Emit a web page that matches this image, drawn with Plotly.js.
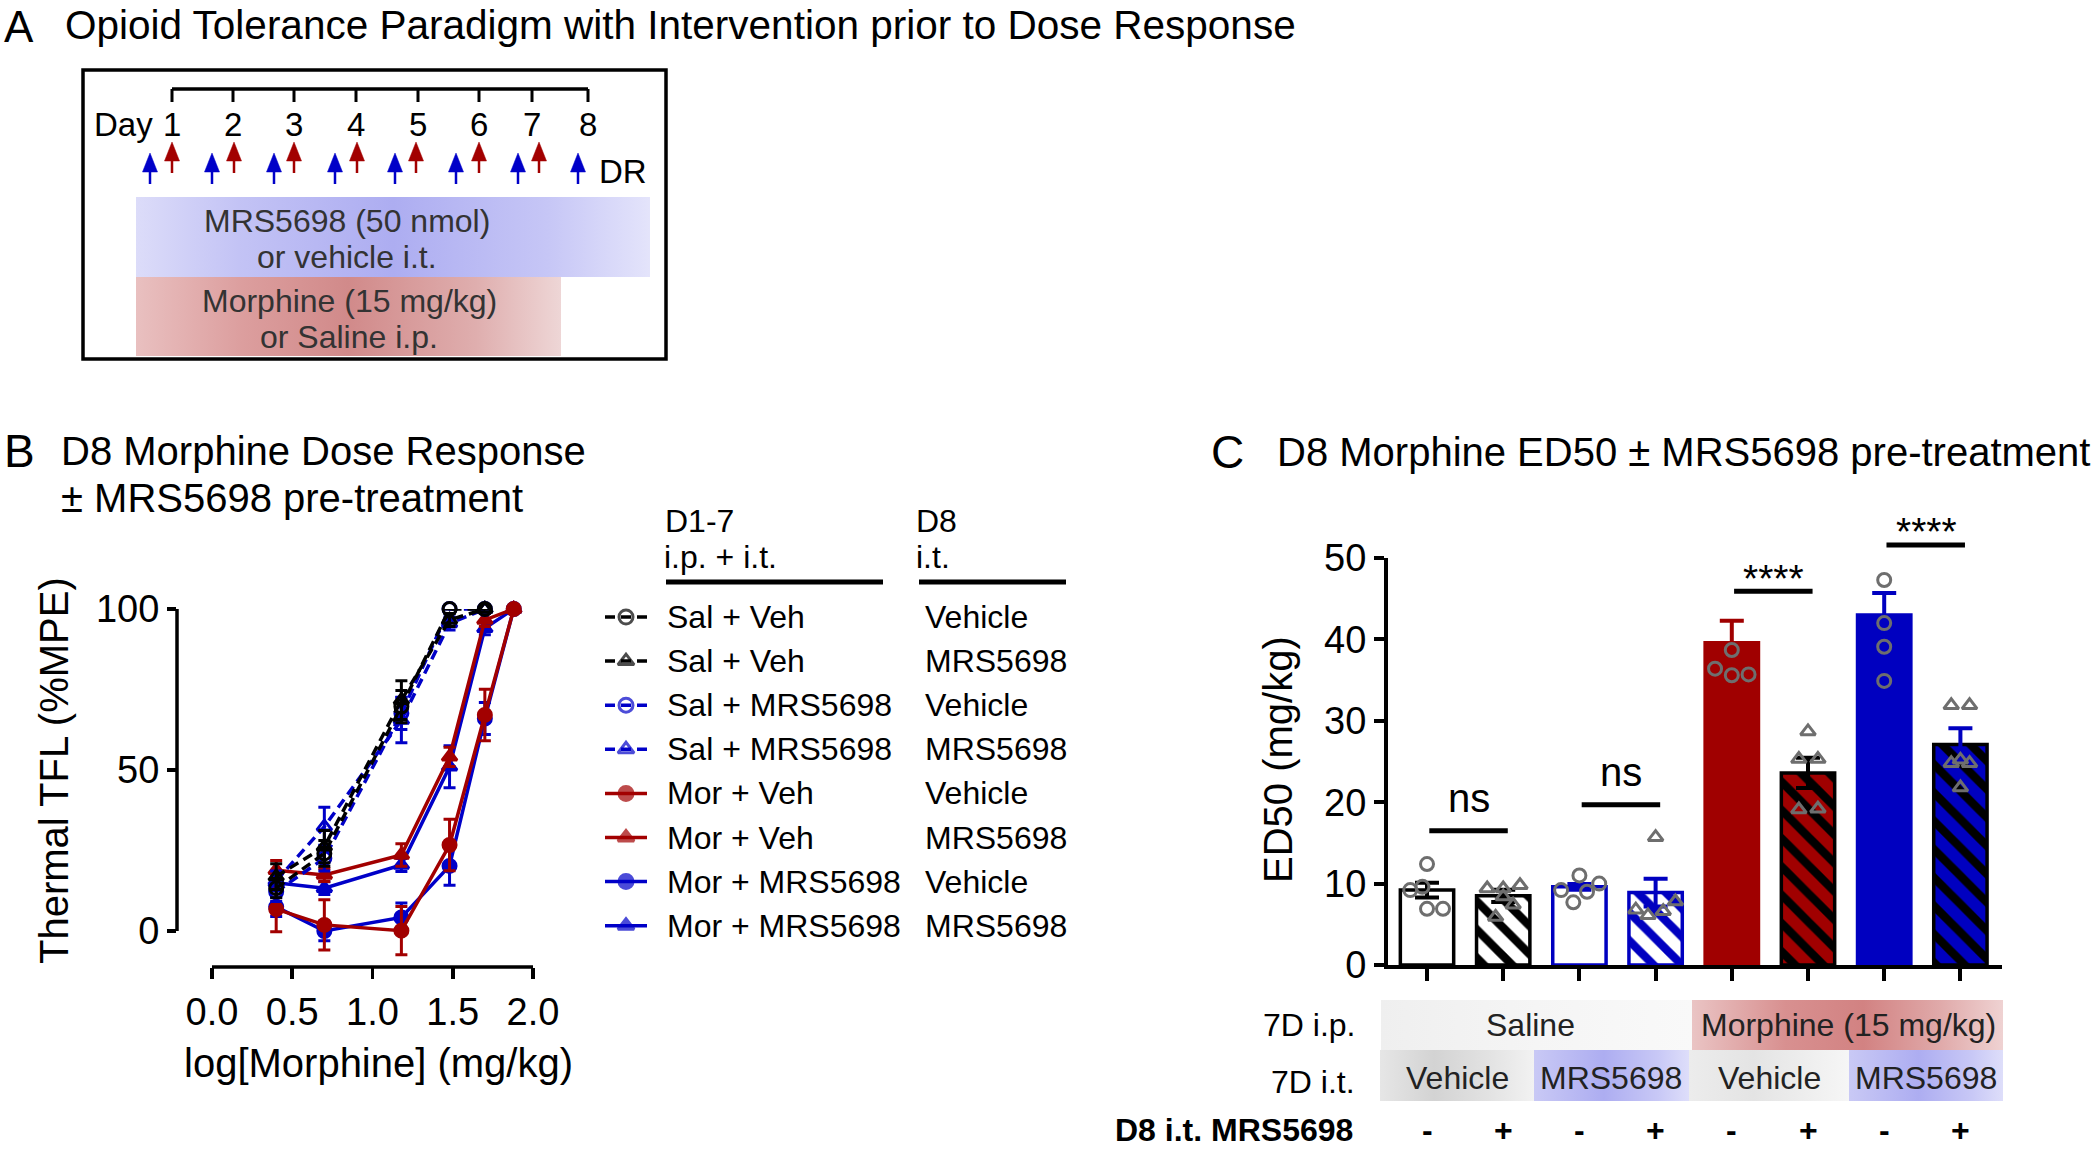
<!DOCTYPE html>
<html><head><meta charset="utf-8">
<script src="https://cdn.plot.ly/plotly-3.0.1.min.js"></script>
<style>html,body{margin:0;padding:0;background:#fff}#chart{width:2100px;height:1150px}</style>
</head><body><div id="chart"></div>
<script>
// ================= DATA =================
// Panel A
const dayLabels = ['1','2','3','4','5','6','7','8'];

// Panel B : dose response (log dose, %MPE, SEM)
const logDose = [0.40, 0.70, 1.18, 1.48, 1.70, 1.88];
const salVehVeh    = [13.3, 24.1, 69.7, 100, 100];
const salVehVehErr = [3, 4, 5, 0, 0];
const salVehMrs    = [16.9, 26.2, 71.7, 96.6, 100];
const salVehMrsErr = [4, 5, 6, 2, 0];
const salMrsVeh    = [12.2, 22.6, 67.6, 100, 100];
const salMrsVehErr = [3, 4, 5, 0, 0];
const salMrsMrs    = [15.6, 32.4, 65.5, 95.5, 100];
const salMrsMrsErr = [3, 6, 7, 2, 0];
const morVehVeh    = [6.8, 1.9, 0.1, 26.7, 67.1, 100];
const morVehVehErr = [7, 7.8, 7.5, 8, 8, 0];
const morVehMrs    = [18.9, 17.4, 23.6, 54.1, 96.6, 100];
const morVehMrsErr = [3, 2, 3.5, 3, 2, 0];
const morMrsVeh    = [7.5, 0, 4.2, 20.2, 66, 100];
const morMrsVehErr = [3, 3, 4.5, 6, 5, 0];
const morMrsMrs    = [15.0, 13.3, 20.5, 51.0, 94, 100];
const morMrsMrsErr = [2, 2, 2, 6.5, 2, 0];
const legendGroup = ['Sal + Veh', 'Sal + Veh', 'Sal + MRS5698', 'Sal + MRS5698',
                     'Mor + Veh', 'Mor + Veh', 'Mor + MRS5698', 'Mor + MRS5698'];
const legendD8 = ['Vehicle', 'MRS5698', 'Vehicle', 'MRS5698', 'Vehicle', 'MRS5698', 'Vehicle', 'MRS5698'];

// Panel C : ED50 bars
const edMeans = [9.2, 8.5, 9.6, 8.9, 39.6, 23.6, 43.0, 27.1];
const edSem   = [0.9, 0.75, 0.35, 1.7, 2.7, 1.85, 2.7, 2.0];
const edPts = [
  [12.4, 9.2, 9.6, 6.9, 6.9],
  [9.4, 9.4, 9.8, 8.4, 7.4, 5.9],
  [9.2, 11.0, 9.0, 10.0, 7.7],
  [15.7, 6.8, 6.1, 6.6, 7.8],
  [38.7, 36.4, 35.6, 35.7],
  [28.7, 25.3, 25.3, 19.1, 19.2],
  [47.3, 42.0, 39.1, 34.9],
  [31.9, 31.9, 24.8, 25.2, 24.8, 21.8]
];
const edJitter = [
  [0, -0.22, -0.06, 0, 0.21],
  [-0.21, 0, 0.22, 0, 0.13, -0.1],
  [-0.24, 0, 0.1, 0.26, -0.08],
  [0, -0.26, -0.1, 0.1, 0.26],
  [0, -0.22, 0, 0.22],
  [0, -0.12, 0.13, -0.12, 0.13],
  [0, 0, 0, 0],
  [-0.12, 0.12, -0.12, 0, 0.12, 0]
];
const ipLabels = ['Saline', 'Morphine (15 mg/kg)'];
const itLabels = ['Vehicle', 'MRS5698', 'Vehicle', 'MRS5698'];
const d8Signs = ['-', '+', '-', '+', '-', '+', '-', '+'];
const sigFrom = [0, 2, 4, 6];
const sigLevel = [16.5, 19.7, 45.9, 51.6];
const sigText = ['ns', 'ns', '****', '****'];

// ================= STYLE / GEOMETRY =================
const W = 2100, H = 1150;
const FONT = 'Liberation Sans, Arial, Helvetica, sans-serif';
const RED = '#a20000', BLUE = '#0000c8', BLK = '#000000', GRAY = '#6e6e6e';
const Bpx = {left: 177, right: 533, top: 609, bottom: 967, xr: [-0.218, 2.0], yr: [-11.18, 100]};
const Cpx = {left: 1388, right: 2002, top: 558, bottom: 965, xr: [-0.512, 7.546], yr: [0, 50]};
function px(p, v) { return p.left + (v - p.xr[0]) / (p.xr[1] - p.xr[0]) * (p.right - p.left); }
function py(p, v) { return p.bottom - (v - p.yr[0]) / (p.yr[1] - p.yr[0]) * (p.bottom - p.top); }

const traces = [];
const shapes = [];
const ann = [];
function T(x, y, text, size, o) {
  o = o || {};
  ann.push({xref: o.xref || 'x3', yref: o.yref || 'y3', x: x, y: y, text: text, showarrow: false,
    xanchor: o.xa || 'center', yanchor: o.ya || 'middle', textangle: o.angle || 0,
    font: {family: FONT, size: size, color: o.color || '#000'}});
}
function L(x0, y0, x1, y1, w, c, dash) {
  shapes.push({type: 'line', xref: 'x3', yref: 'y3', x0: x0, y0: y0, x1: x1, y1: y1,
    line: {width: w, color: c || '#000', dash: dash || 'solid'}});
}
function gradBox(x0, x1, y0, y1, scale) {
  traces.push({type: 'scatter', xaxis: 'x3', yaxis: 'y3', x: [x0, x1, x1, x0, x0], y: [y0, y0, y1, y1, y0],
    mode: 'lines', line: {width: 0, color: 'rgba(0,0,0,0)'}, fill: 'toself',
    fillgradient: {type: 'horizontal', colorscale: scale}, hoverinfo: 'skip', showlegend: false});
}

// ================= PANEL A =================
T(2, 0, 'A', 44, {xa: 'left', ya: 'top'});
T(63, 0, 'Opioid Tolerance Paradigm with Intervention prior to Dose Response', 40.5, {xa: 'left', ya: 'top'});
gradBox(136, 650, 197, 277, [[0, '#dcdcf9'], [0.2, '#c3c3f5'], [0.5, '#adadf1'], [0.8, '#c6c6f6'], [1, '#e4e4fb']]);
gradBox(136, 561, 277, 356, [[0, '#e9c0c0'], [0.25, '#dc9e9e'], [0.5, '#d18a8a'], [0.8, '#dfaeae'], [1, '#eed6d6']]);
shapes.push({type: 'rect', xref: 'x3', yref: 'y3', x0: 83, y0: 70, x1: 666, y1: 359, line: {width: 3.5, color: '#000'}});
const dayX = [172, 233, 294, 356, 418, 479, 532, 588];
L(dayX[0], 89, dayX[7], 89, 3.5);
dayX.forEach(function (x, i) { L(x, 89, x, 102, 3); T(x, 124, dayLabels[i], 33); });
T(155, 124, 'Day', 33, {xa: 'right'});
T(597, 171, 'DR', 33, {xa: 'left'});
const blueArrowX = [150, 212, 274, 335, 395, 456, 518, 578];
const redArrowX = [172, 234, 294, 357, 416, 479, 539];
function arrow(x, tip, tail, col) {
  shapes.push({type: 'path', xref: 'x3', yref: 'y3', path: 'M' + x + ',' + tip + ' L' + (x - 7.5) + ',' + (tip + 19) + ' L' + (x + 7.5) + ',' + (tip + 19) + ' Z',
    fillcolor: col, line: {width: 0.5, color: col}});
  L(x, tip + 15, x, tail, 2.5, col);
}
blueArrowX.forEach(function (x) { arrow(x, 153, 184, BLUE); });
redArrowX.forEach(function (x) { arrow(x, 142, 173, RED); });
T(347, 221, 'MRS5698 (50 nmol)', 32, {color: '#333'});
T(347, 257, 'or vehicle i.t.', 32, {color: '#333'});
T(349, 301, 'Morphine (15 mg/kg)', 32, {color: '#333'});
T(349, 337, 'or Saline i.p.', 32, {color: '#333'});

// ================= PANEL B =================
T(2, 451, 'B', 46, {xa: 'left'});
T(59, 451, 'D8 Morphine Dose Response', 40, {xa: 'left'});
T(59, 498, '± MRS5698 pre-treatment', 40, {xa: 'left'});
T(54, 771, 'Thermal TFL (%MPE)', 40, {angle: -90});
T(378, 1063, 'log[Morphine] (mg/kg)', 40);
// offset axis lines (Prism style)
L(Bpx.left, py(Bpx, 0), Bpx.left, py(Bpx, 100), 3.5);
L(px(Bpx, 0), Bpx.bottom, px(Bpx, 2), Bpx.bottom, 3.5);

const seriesB = [
  {y: morMrsVeh, e: morMrsVehErr, c: BLUE, s: 'circle', d: 'solid'},
  {y: morMrsMrs, e: morMrsMrsErr, c: BLUE, s: 'triangle-up', d: 'solid'},
  {y: morVehVeh, e: morVehVehErr, c: RED, s: 'circle', d: 'solid'},
  {y: morVehMrs, e: morVehMrsErr, c: RED, s: 'triangle-up', d: 'solid'},
  {y: salMrsVeh, e: salMrsVehErr, c: BLUE, s: 'circle-open', d: '10px,6px'},
  {y: salMrsMrs, e: salMrsMrsErr, c: BLUE, s: 'triangle-up-open', d: '10px,6px'},
  {y: salVehVeh, e: salVehVehErr, c: BLK, s: 'circle-open', d: '10px,6px'},
  {y: salVehMrs, e: salVehMrsErr, c: BLK, s: 'triangle-up-open', d: '10px,6px'}
];
seriesB.forEach(function (s) {
  traces.push({type: 'scatter', xaxis: 'x', yaxis: 'y', x: logDose.slice(0, s.y.length), y: s.y,
    mode: 'lines+markers', cliponaxis: false, showlegend: false,
    line: {color: s.c, width: 3.5, dash: s.d},
    marker: {symbol: s.s, size: 13, color: s.c, line: {color: s.c, width: 3}},
    error_y: {type: 'data', array: s.e, visible: true, color: s.c, thickness: 3, width: 6}});
});

// custom two-column legend
T(663, 521, 'D1-7', 32, {xa: 'left'});
T(662, 557, 'i.p. + i.t.', 32, {xa: 'left'});
T(914, 521, 'D8', 32, {xa: 'left'});
T(914, 557, 'i.t.', 32, {xa: 'left'});
L(666, 582, 883, 582, 5);
L(919, 582, 1066, 582, 5);
const legStyle = [
  {c: BLK, s: 'circle-open', d: '10px,6px'}, {c: BLK, s: 'triangle-up-open', d: '10px,6px'},
  {c: BLUE, s: 'circle-open', d: '10px,6px'}, {c: BLUE, s: 'triangle-up-open', d: '10px,6px'},
  {c: RED, s: 'circle', d: 'solid'}, {c: RED, s: 'triangle-up', d: 'solid'},
  {c: BLUE, s: 'circle', d: 'solid'}, {c: BLUE, s: 'triangle-up', d: 'solid'}
];
legendGroup.forEach(function (g, i) {
  const yy = 617 + i * 44.1;
  const st = legStyle[i];
  traces.push({type: 'scatter', xaxis: 'x3', yaxis: 'y3', x: [605, 626, 647], y: [yy, yy, yy],
    mode: 'lines+markers', cliponaxis: false, showlegend: false, hoverinfo: 'skip',
    line: {color: st.c, width: 3.5, dash: st.d},
    marker: {symbol: st.s, size: [0, 14, 0], color: st.c, line: {color: st.c, width: 3}}});
  T(665, yy, g, 32, {xa: 'left'});
  T(923, yy, legendD8[i], 32, {xa: 'left'});
});

// ================= PANEL C =================
T(1209, 452, 'C', 46, {xa: 'left'});
T(1275, 452, 'D8 Morphine ED50 ± MRS5698 pre-treatment', 40, {xa: 'left'});
T(1278, 760, 'ED50 (mg/kg)', 40, {angle: -90});

const barFill = ['#ffffff', '#ffffff', '#ffffff', '#ffffff', '#a00000', '#a00000', '#0000c0', '#0000c0'];
const barLine = [BLK, BLK, '#0000c0', '#0000c0', '#a00000', BLK, '#0000c0', BLK];
const hatchFg = [null, BLK, null, '#0000c0', null, BLK, null, BLK];
const errColor = [BLK, BLK, '#0000c0', '#0000c0', '#a00000', BLK, '#0000c0', '#0000c0'];
edMeans.forEach(function (m, i) {
  const mk = {color: barFill[i], line: {color: barLine[i], width: 3.5}};
  if (hatchFg[i]) mk.pattern = {shape: '\\', fgcolor: hatchFg[i], bgcolor: barFill[i], size: 20, solidity: 0.42, fillmode: 'replace'};
  traces.push({type: 'bar', xaxis: 'x2', yaxis: 'y2', x: [i], y: [m], width: 0.7, showlegend: false,
    marker: mk, cliponaxis: false,
    error_y: {type: 'data', array: [edSem[i]], visible: true, color: errColor[i], thickness: 4, width: 12}});
});
edPts.forEach(function (pts, i) {
  traces.push({type: 'scatter', xaxis: 'x2', yaxis: 'y2', mode: 'markers', showlegend: false, cliponaxis: false,
    x: pts.map(function (_, k) { return i + edJitter[i][k]; }), y: pts,
    marker: {symbol: i % 2 === 0 ? 'circle-open' : 'triangle-up-open', size: 13, color: GRAY, line: {color: GRAY, width: 3}}});
});
sigFrom.forEach(function (a, k) {
  L(px(Cpx, a + 0.03), py(Cpx, sigLevel[k]), px(Cpx, a + 1.06), py(Cpx, sigLevel[k]), 5);
  const isNs = sigText[k] === 'ns';
  const yTxt = py(Cpx, sigLevel[k]) - (isNs ? 33 : 13);
  T(px(Cpx, a + 0.55), yTxt, sigText[k], isNs ? 40 : 39);
});

// treatment boxes below
gradBox(1381, 1692, 1000, 1050, [[0, '#efefef'], [0.5, '#f5f5f5'], [1, '#f9f9f9']]);
gradBox(1692, 2003, 1000, 1050, [[0, '#eac4c4'], [0.3, '#d89090'], [0.55, '#d28282'], [0.8, '#e0aaaa'], [1, '#efd2d2']]);
gradBox(1380, 1534, 1050, 1101, [[0, '#e6e6e6'], [0.35, '#d3d3d3'], [0.7, '#e2e2e2'], [1, '#f2f2f2']]);
gradBox(1534, 1689, 1050, 1101, [[0, '#c9c9f5'], [0.45, '#adadf1'], [0.8, '#c8c8f6'], [1, '#dedefa']]);
gradBox(1689, 1849, 1050, 1101, [[0, '#ececec'], [0.4, '#e4e4e4'], [1, '#f6f6f6']]);
gradBox(1849, 2003, 1050, 1101, [[0, '#c9c9f5'], [0.45, '#adadf1'], [0.8, '#c8c8f6'], [1, '#dedefa']]);
T(1530, 1025, ipLabels[0], 32, {color: '#222'});
T(1848, 1025, ipLabels[1], 32, {color: '#222'});
[1457, 1611, 1769, 1926].forEach(function (x, i) { T(x, 1078, itLabels[i], 32, {color: '#222'}); });
T(1357, 1025, '7D i.p.', 32, {xa: 'right'});
T(1357, 1082, '7D i.t.', 32, {xa: 'right'});
T(1355, 1150, '<b>D8 i.t. MRS5698</b>', 32, {xa: 'right', ya: 'bottom'});
d8Signs.forEach(function (s, i) { T(i, 1150, '<b>' + s + '</b>', 32, {xref: 'x2', ya: 'bottom'}); });

// ================= LAYOUT =================
const tickFont = {family: FONT, size: 38, color: '#000'};
const layout = {
  width: W, height: H, margin: {l: 0, r: 0, t: 0, b: 0},
  paper_bgcolor: '#ffffff', plot_bgcolor: 'rgba(0,0,0,0)', showlegend: false, barmode: 'overlay',
  font: {family: FONT, color: '#000'},
  xaxis: {domain: [Bpx.left / W, Bpx.right / W], range: Bpx.xr, anchor: 'y', showline: false, showgrid: false, zeroline: false,
    tickvals: [0, 0.5, 1, 1.5, 2], ticktext: ['0.0', '0.5', '1.0', '1.5', '2.0'], ticks: 'outside', ticklen: 11, tickwidth: 3.5,
    tickcolor: '#000', tickfont: tickFont},
  yaxis: {domain: [1 - Bpx.bottom / H, 1 - Bpx.top / H], range: Bpx.yr, anchor: 'x', showline: false, showgrid: false, zeroline: false,
    tickvals: [0, 50, 100], ticks: 'outside', ticklen: 9, tickwidth: 3.5, tickcolor: '#000', tickfont: tickFont},
  xaxis2: {domain: [Cpx.left / W, Cpx.right / W], range: Cpx.xr, anchor: 'y2', showline: true, linewidth: 4, linecolor: '#000',
    showgrid: false, zeroline: false, tickvals: [0, 1, 2, 3, 4, 5, 6, 7], showticklabels: false, ticks: 'outside', ticklen: 12,
    tickwidth: 4, tickcolor: '#000'},
  yaxis2: {domain: [1 - Cpx.bottom / H, 1 - Cpx.top / H], range: Cpx.yr, anchor: 'x2', showline: true, linewidth: 4, linecolor: '#000',
    showgrid: false, zeroline: false, tickvals: [0, 10, 20, 30, 40, 50], ticks: 'outside', ticklen: 10, tickwidth: 4,
    tickcolor: '#000', tickfont: tickFont},
  xaxis3: {domain: [0, 1], range: [0, W], anchor: 'y3', visible: false, fixedrange: true},
  yaxis3: {domain: [0, 1], range: [H, 0], anchor: 'x3', visible: false, fixedrange: true},
  shapes: shapes, annotations: ann
};
Plotly.newPlot('chart', traces, layout, {staticPlot: true, displayModeBar: false});
</script></body></html>
